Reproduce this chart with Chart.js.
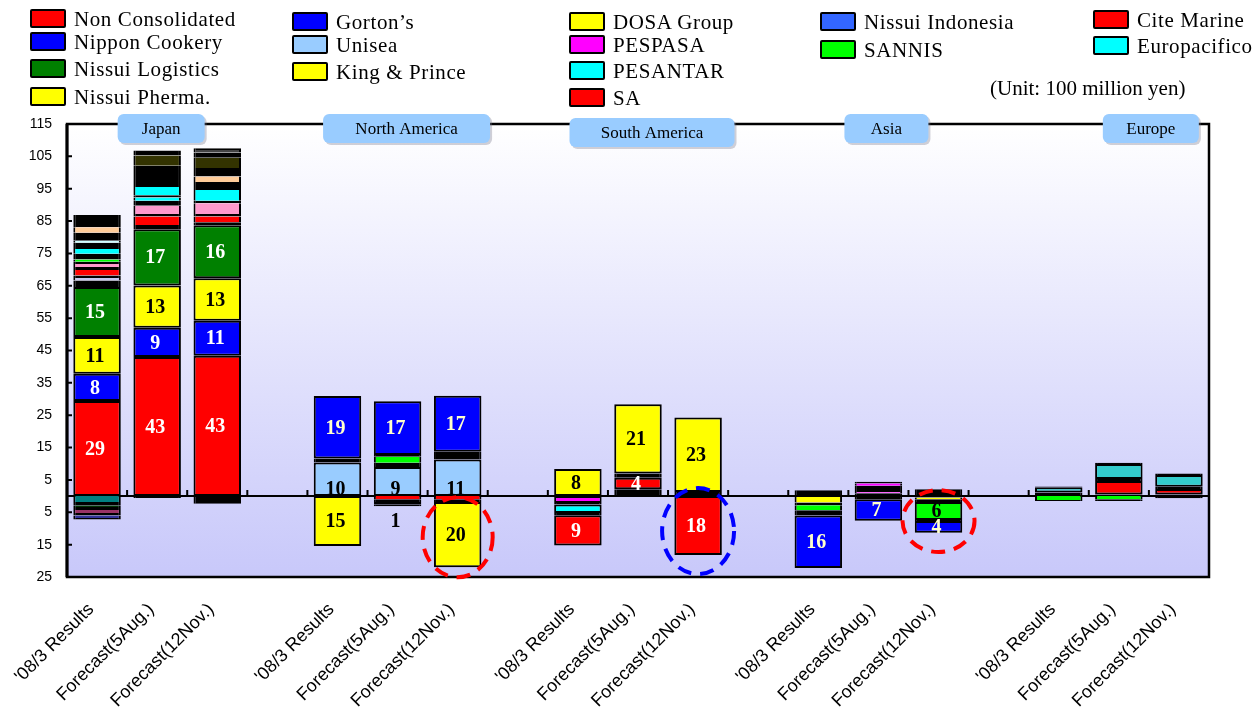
<!DOCTYPE html>
<html>
<head>
<meta charset="utf-8">
<script src="https://cdn.jsdelivr.net/npm/chart.js@4.4.0/dist/chart.umd.min.js"></script>
<style>
  body { margin: 0; background: #fff; }
  #wrap { position: relative; width: 1260px; height: 713px; overflow: hidden; }
  canvas { position: absolute; left: 0; top: 0; }
  .key { position: absolute; font-family: "Liberation Serif", serif; font-size: 21px; letter-spacing: 0.6px; color: #000; white-space: nowrap; line-height: 20px; }
  .key i { position: absolute; left: 0; top: 0; width: 32px; height: 15px; border: 2.5px solid #000; border-radius: 2px; }
  .key span { position: absolute; left: 44px; top: 0; }
  #unit { position: absolute; left: 990px; top: 76px; font-family: "Liberation Serif", serif; font-size: 21px; }
</style>
</head>
<body>
<div id="wrap">
  <canvas id="chart" width="1260" height="713"></canvas>
  <div id="legend"></div>
  <div id="unit">(Unit: 100 million yen)</div>
</div>
<script>
const categories = ["'08/3 Results", 'Forecast(5Aug.)', 'Forecast(12Nov.)'];
const regionNames = ['Japan', 'North America', 'South America', 'Asia', 'Europe'];
const yTickValues = [-25, -15, -5, 5, 15, 25, 35, 45, 55, 65, 75, 85, 95, 105, 115];

// Japan (values per bar: '08/3, 5Aug, 12Nov)
const nonConsolidated = [29.4, 43.0, 43.4];
const nipponCookery = [8.4, 9.0, 10.8];
const nissuiPherma = [11.4, 13.1, 13.1];
const nissuiLogistics = [15.4, 17.4, 16.4];
// smaller Japanese companies stacked above Nissui Logistics, bottom to top
const japanSmallUp = [
  [2.0, 1.3, 0.9], [0.8, 0, 0], [0.8, 0, 0], [1.7, 2.6, 1.8], [0.9, 0.8, 0.8],
  [0.9, 2.5, 3.3], [0.7, 0, 0], [0.7, 0, 0], [1.8, 1.6, 0.8], [1.5, 1.0, 3.3],
  [0, 0.7, 0], [0, 2.5, 0], [1.9, 6.6, 2.5], [0.6, 0, 0], [2.5, 0, 0],
  [1.7, 0, 1.7], [3.8, 0, 2.6], [0, 3.2, 3.2], [0, 1.5, 1.6], [0, 0, 0.8], [0, 0, 0.5]
];
const japanSmallUpColors = ['#000', '#c8c8f0', '#000', '#ff0000', '#000', '#ff99cc', '#000', '#00ff00',
  '#000', '#00ffff', '#000', '#00ffff', '#000', '#ccffff', '#000', '#ffcc99', '#000', '#333300',
  '#000', '#444444', '#000'];
// losses, from zero downwards
const japanSmallDown = [
  [-1.8, 0, 0], [-1.0, -0.6, -2.4], [-0.6, 0, 0], [-0.9, 0, 0], [-0.9, 0, 0],
  [-0.8, 0, 0], [-0.8, 0, 0], [-0.4, 0, 0]
];
const japanSmallDownColors = ['#008080', '#000', '#003300', '#000', '#993366', '#000', '#333399', '#000'];

// North America
const unisea = [10.4, 9.0, 11.3];
const gortons = [19.3, 16.6, 17.3];
const kingAndPrince = [-15.4, -0.9, -20.2];
const naOthersMid = [[1.2, 1.3, 2.4], [0, 1.9, 0], [0, 0.5, 0]];
const naOthersMidColors = ['#000', '#00ff00', '#000'];
const naOthersDown = [[0, -1.0, -1.0], [0, -0.8, -0.8]];
const naOthersDownColors = ['#ff0000', '#000'];
const naOthersBottom = [0, -0.4, 0];

// South America
const dosaGroup = [8.4, 21.4, 23.0];
const pespasa = [-2.1, 0, 0];
const pesantar = [-2.6, 0, 0];
const sa = [-9.4, 3.6, -18.2];
const saOthersBase = [0, 2.1, 1.3];
const saOthersGap1 = [-0.5, 0, 0];
const saOthersGap2 = [-0.7, 0, 0];
const saOthersTop = [0, 1.3, 0];

// Asia
const asiaOthersUp = [[1.8, 0.9, 2.1], [0, 0.4, 0], [0, 1.9, 0], [0, 0.7, 0], [0, 0.5, 0]];
const asiaOthersUpColors = ['#000', '#ff66ff', '#000', '#ff00ff', '#000'];
const asiaOthersDown = [[-0.3, -1.0, -0.4], [-1.7, 0, -0.6], [-0.8, 0, -0.8], [-1.6, 0, 0]];
const asiaOthersDownColors = ['#000', '#ffff00', '#000', '#00ff00'];
const sannis = [0, 0, -5.6];
const asiaOthersGap = [-1.6, 0, -0.3];
const nissuiIndonesia = [-16.2, -6.6, -3.6];

// Europe
const citeMarine = [0, 4.2, 1.7];
const europacifico = [1.6, 4.6, 3.6];
const europeOthersBase = [1.1, 0.5, 0.5];
const europeOthersGap = [0, 0.6, 0.7];
const europeOthersTop = [0.3, 0.4, 0.5];
const europeOthersDown = [[-1.2, -1.0, 0], [-0.3, -0.5, -0.7]];
const europeOthersDownColors = ['#00ff00', '#000'];

// legend
const legendNames = ['Non Consolidated', 'Nippon Cookery', 'Nissui Logistics', 'Nissui Pherma.',
  'Gorton\u2019s', 'Unisea', 'King & Prince', 'DOSA Group', 'PESPASA', 'PESANTAR', 'SA',
  'Nissui Indonesia', 'SANNIS', 'Cite Marine', 'Europacifico'];
const legendColors = ['#ff0000', '#0000ff', '#008000', '#ffff00', '#0000ff', '#99ccff', '#ffff00',
  '#ffff00', '#ff00ff', '#00ffff', '#ff0000', '#3366ff', '#00ff00', '#ff0000', '#00ffff'];
const legendSpots = [[30, 9], [30, 32], [30, 59], [30, 87], [292, 12], [292, 35], [292, 62],
  [569, 12], [569, 35], [569, 61], [569, 88], [820, 12], [820, 40], [1093, 10], [1093, 36]];

const legendBox = document.getElementById('legend');
legendNames.forEach((n, i) => {
  const d = document.createElement('div');
  d.className = 'key';
  d.style.left = legendSpots[i][0] + 'px';
  d.style.top = legendSpots[i][1] + 'px';
  d.innerHTML = '<i style="background:' + legendColors[i] + '"></i><span></span>';
  d.querySelector('span').textContent = n;
  legendBox.appendChild(d);
});

// 5 groups of 3 bars with an empty slot between groups
const labels = [];
regionNames.forEach((r, ri) => {
  categories.forEach(c => labels.push(c));
  if (ri < regionNames.length - 1) labels.push('');
});

function spread(region, vals) {
  const out = new Array(labels.length).fill(null);
  vals.forEach((v, i) => { out[region * 4 + i] = v ? v : null; });
  return out;
}

const datasets = [];
function add(label, region, vals, color, textColor, thin, textAtBase) {
  datasets.push({
    label: label,
    data: spread(region, vals),
    backgroundColor: color,
    borderColor: '#000',
    borderWidth: thin ? { left: 2, right: 2, top: 0, bottom: 0 } : 2,
    borderSkipped: false,
    textColor: textColor || null,
    textAtBase: !!textAtBase
  });
}

// Japan
add('Non Consolidated', 0, nonConsolidated, '#ff0000', '#ffffff');
add('Nippon Cookery', 0, nipponCookery, '#0000ff', '#ffffff');
add('Nissui Pherma.', 0, nissuiPherma, '#ffff00', '#000000');
add('Nissui Logistics', 0, nissuiLogistics, '#008000', '#ffffff');
japanSmallUp.forEach((v, i) => add('Japan others', 0, v, japanSmallUpColors[i], null, true));
japanSmallDown.forEach((v, i) => add('Japan others', 0, v, japanSmallDownColors[i], null, true));
// North America
add('Unisea', 1, unisea, '#99ccff', '#000000', false, true);
naOthersMid.forEach((v, i) => add('NA others', 1, v, naOthersMidColors[i], null, true));
add('Gorton\u2019s', 1, gortons, '#0000ff', '#ffffcc');
naOthersDown.forEach((v, i) => add('NA others', 1, v, naOthersDownColors[i], null, true));
add('King & Prince', 1, kingAndPrince, '#ffff00', '#000000');
add('NA others', 1, naOthersBottom, '#000', null, true);
// South America
add('SA others', 2, saOthersBase, '#000', null, true);
add('PESPASA', 2, pespasa, '#ff00ff');
add('SA others', 2, saOthersGap1, '#000', null, true);
add('PESANTAR', 2, pesantar, '#00ffff');
add('SA others', 2, saOthersGap2, '#000', null, true);
add('SA', 2, sa, '#ff0000', '#ffffff');
add('SA others', 2, saOthersTop, '#000', null, true);
add('DOSA Group', 2, dosaGroup, '#ffff00', '#000000');
// Asia
asiaOthersUp.forEach((v, i) => add('Asia others', 3, v, asiaOthersUpColors[i], null, true));
asiaOthersDown.forEach((v, i) => add('Asia others', 3, v, asiaOthersDownColors[i], null, true));
add('SANNIS', 3, sannis, '#00ff00', '#000000');
add('Asia others', 3, asiaOthersGap, '#000', null, true);
add('Nissui Indonesia', 3, nissuiIndonesia, '#0000ff', '#ffffcc');
// Europe
add('Europe others', 4, europeOthersBase, '#000', null, true);
add('Cite Marine', 4, citeMarine, '#ff0000');
add('Europe others', 4, europeOthersGap, '#000', null, true);
add('Europacifico', 4, europacifico, '#33cccc');
add('Europe others', 4, europeOthersTop, '#000', null, true);
europeOthersDown.forEach((v, i) => add('Europe others', 4, v, europeOthersDownColors[i], null, true));

// region tags above each group: [width, x shift, y shift]
const regionTags = [[87, 4, -10], [167, 9, -10], [165, 14, -6], [84, 8, -10], [96, 32, -10]];
// dashed rings: [category index, value, rx, ry, colour]
const rings = [[6, -12.7, 35, 40, '#ff0000'], [10, -10.8, 36, 43, '#0000ff'], [14, -7.7, 36, 31, '#ff0000']];

const frame = {
  id: 'frame',
  beforeDatasetsDraw(chart) {
    const { ctx, chartArea: a, scales: { x, y } } = chart;
    ctx.save();
    const g = ctx.createLinearGradient(0, a.top, 0, a.bottom);
    g.addColorStop(0, '#ffffff');
    g.addColorStop(1, '#c8c8fa');
    ctx.fillStyle = g;
    ctx.fillRect(a.left, a.top, a.width, a.height);
    const y0 = y.getPixelForValue(0);
    ctx.strokeStyle = '#000';
    ctx.lineWidth = 2;
    ctx.beginPath();
    ctx.moveTo(a.left, y0);
    ctx.lineTo(a.right, y0);
    for (let i = 1; i < labels.length; i++) {
      const px = (x.getPixelForValue(i - 1) + x.getPixelForValue(i)) / 2;
      ctx.moveTo(px, y0);
      ctx.lineTo(px, y0 - 6);
    }
    ctx.stroke();
    ctx.restore();
  },
  afterDatasetsDraw(chart) {
    const { ctx, chartArea: a, scales: { y } } = chart;
    ctx.save();
    ctx.strokeStyle = '#000';
    ctx.lineWidth = 2.5;
    ctx.strokeRect(a.left, a.top, a.width, a.height);
    ctx.lineWidth = 3;
    ctx.beginPath();
    ctx.moveTo(a.left, a.top);
    ctx.lineTo(a.left, a.bottom);
    ctx.stroke();
    ctx.lineWidth = 2;
    ctx.beginPath();
    yTickValues.forEach(v => {
      const py = y.getPixelForValue(v);
      ctx.moveTo(a.left, py);
      ctx.lineTo(a.left + 5, py);
    });
    ctx.stroke();
    ctx.restore();
  }
};

const valueLabels = {
  id: 'valueLabels',
  afterDatasetsDraw(chart) {
    const ctx = chart.ctx;
    ctx.save();
    ctx.font = 'bold 20px "Liberation Serif"';
    ctx.textAlign = 'center';
    ctx.textBaseline = 'middle';
    chart.data.datasets.forEach((ds, di) => {
      if (!ds.textColor) return;
      chart.getDatasetMeta(di).data.forEach((bar, i) => {
        const v = ds.data[i];
        if (v == null) return;
        const h = Math.abs(bar.base - bar.y);
        let py = (bar.y + bar.base) / 2;
        if (ds.textAtBase) py = bar.base - 7;
        ctx.fillStyle = ds.textColor;
        if (h < 10) {
          py = Math.max(bar.y, bar.base) + 16;
          ctx.fillStyle = '#000';
        }
        ctx.fillText(String(Math.round(Math.abs(v))), bar.x - 2, py + 1);
      });
    });
    ctx.restore();
  }
};

const marks = {
  id: 'marks',
  afterDraw(chart) {
    const { ctx, chartArea: a, scales: { x, y } } = chart;
    ctx.save();
    regionTags.forEach((t, i) => {
      const cx = x.getPixelForValue(i * 4 + 1) + t[1];
      const left = cx - t[0] / 2, top = a.top + t[2], h = 29;
      ctx.fillStyle = 'rgba(120,120,140,0.35)';
      ctx.beginPath();
      ctx.roundRect(left + 2, top + 2, t[0], h, 6);
      ctx.fill();
      ctx.fillStyle = '#99ccff';
      ctx.beginPath();
      ctx.roundRect(left, top, t[0], h, 6);
      ctx.fill();
      ctx.fillStyle = '#000';
      ctx.font = '17px "Liberation Serif"';
      ctx.textAlign = 'center';
      ctx.textBaseline = 'middle';
      ctx.fillText(regionNames[i], cx, top + h / 2 + 1);
    });
    ctx.lineWidth = 4;
    ctx.setLineDash([14, 9]);
    rings.forEach(r => {
      ctx.strokeStyle = r[4];
      ctx.beginPath();
      ctx.ellipse(x.getPixelForValue(r[0]), y.getPixelForValue(r[1]), r[2], r[3], 0, 0, Math.PI * 2);
      ctx.stroke();
    });
    ctx.restore();
  }
};

new Chart(document.getElementById('chart').getContext('2d'), {
  type: 'bar',
  data: { labels: labels, datasets: datasets },
  options: {
    responsive: false,
    animation: false,
    devicePixelRatio: 1,
    layout: { padding: { top: 124, right: 51, left: 0, bottom: 0 } },
    datasets: { bar: { barPercentage: 0.79, categoryPercentage: 1 } },
    plugins: { legend: { display: false }, tooltip: { enabled: false } },
    scales: {
      x: {
        stacked: true,
        grid: { display: false, drawTicks: false },
        border: { display: false },
        afterFit: s => { s.height = 136; },
        ticks: {
          autoSkip: false, maxRotation: 45, minRotation: 45, padding: 22, labelOffset: -6,
          color: '#000', font: { family: 'Liberation Sans', size: 18 }
        }
      },
      y: {
        stacked: true,
        min: -25,
        max: 115,
        afterBuildTicks: s => { s.ticks = yTickValues.map(v => ({ value: v })); },
        afterFit: s => { s.width = 67; },
        grid: { display: false, drawTicks: false },
        border: { display: false },
        ticks: {
          padding: 15, color: '#000',
          font: { family: 'Liberation Sans', size: 14 },
          callback: v => String(Math.abs(v))
        }
      }
    }
  },
  plugins: [frame, valueLabels, marks]
});
</script>
</body>
</html>
